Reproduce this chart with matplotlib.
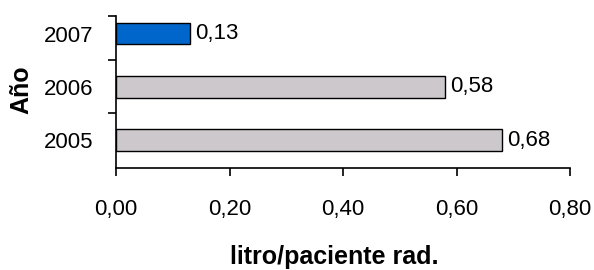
import matplotlib
matplotlib.use("Agg")
import matplotlib.pyplot as plt

years = ["2005", "2006", "2007"]
values = [0.68, 0.58, 0.13]
value_labels = ["0,68", "0,58", "0,13"]
xticks = [0.0, 0.2, 0.4, 0.6, 0.8]
xtick_labels = ["0,00", "0,20", "0,40", "0,60", "0,80"]
colors = ["#CCC8CC", "#CCC8CC", "#0066CC"]

plt.rcParams['font.family'] = ['Liberation Sans', 'DejaVu Sans']

fig = plt.figure(figsize=(5.94, 2.70), dpi=100)
ax = fig.add_axes([116/594, 1-168/270, 454/594, 152/270])

pos = list(range(len(years)))
ax.barh(pos, values, height=0.41, color=colors, edgecolor="black", linewidth=1.0, zorder=3)
for p, v, lab in zip(pos, values, value_labels):
    ax.text(v + 0.009, p, lab, va="center", ha="left", fontsize=16)

ax.set_xlim(0, 0.8)
ax.set_ylim(-0.526, 2.33)
ax.set_xticks(xticks)
ax.set_xticklabels(xtick_labels, fontsize=16)
ax.set_yticks(pos)
ax.set_yticklabels(years, fontsize=16)
ax.tick_params(axis="y", which="major", length=0, pad=16)
ax.set_yticks([0.5, 1.5, 2.33], minor=True)
ax.tick_params(axis="y", which="minor", length=6, width=1.2)
ax.tick_params(axis="x", length=6, width=1.2, pad=16)

for s in ["top", "right"]:
    ax.spines[s].set_visible(False)
for s in ["left", "bottom"]:
    ax.spines[s].set_linewidth(1.2)

fig.text(334/594, 1-257/270, "litro/paciente rad.", fontsize=18, fontweight="bold",
         ha="center", va="center")
fig.text(21/594, 1-90/270, "Año", fontsize=18, fontweight="bold",
         ha="center", va="center", rotation=90)

fig.savefig("out.png", dpi=100)
